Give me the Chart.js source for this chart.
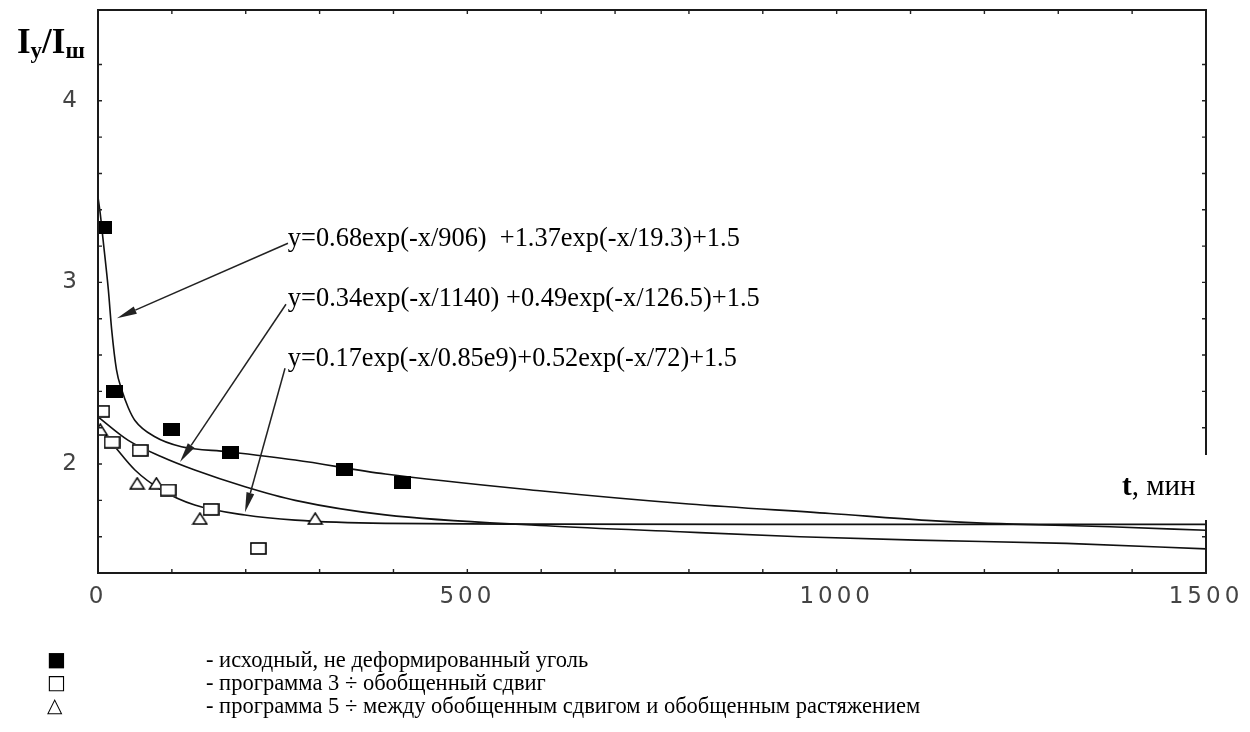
<!DOCTYPE html>
<html>
<head>
<meta charset="utf-8">
<script src="https://cdn.jsdelivr.net/npm/chart.js@4"></script>
<style>
html, body { margin: 0; padding: 0; background: #fff; }
#wrap { position: relative; width: 1250px; height: 732px; }
#c { position: absolute; left: 0; top: 0; }
.leg { position: absolute; font-family: "Liberation Serif", "Times New Roman", serif; font-size: 22.5px; line-height: 23px; color: #000; white-space: nowrap; }
.mk { font-family: "DejaVu Sans", sans-serif; font-size: 20px; }
</style>
</head>
<body>
<div id="wrap">
  <canvas id="c" width="1250" height="732"></canvas>
  <div class="leg mk" style="left:47px;top:648px">■<br>□<br>△</div>
  <div class="leg" style="left:206px;top:648px">- исходный, не деформированный уголь<br>- программа 3 ÷ обобщенный сдвиг<br>- программа 5 ÷ между обобщенным сдвигом и обобщенным растяжением</div>
</div>
<script>
// measured points
const filledT = [8, 23, 100, 179, 334, 412];
const filledV = [3.30, 2.40, 2.19, 2.065, 1.972, 1.897];
const openT = [5, 19, 57, 95, 153, 217];
const openV = [2.29, 2.12, 2.075, 1.857, 1.75, 1.535];
const triT = [3, 53, 79, 138, 294];
const triV = [2.19, 1.894, 1.894, 1.70, 1.70];

// fitted curves
const fit1T = [0, 3, 7, 14, 18.5, 25, 32, 41, 50, 77, 113, 176, 267, 389, 598, 800, 991, 1122, 1239, 1370, 1500];
const fit1V = [3.47, 3.38, 3.23, 2.96, 2.74, 2.52, 2.41, 2.31, 2.24, 2.15, 2.095, 2.068, 2.022, 1.945, 1.853, 1.78, 1.728, 1.69, 1.669, 1.655, 1.635];
const fit2T = [0, 3, 41, 86, 131, 199, 267, 389, 607, 788, 950, 1108, 1311, 1500];
const fit2V = [2.26, 2.25, 2.13, 2.04, 1.967, 1.875, 1.80, 1.72, 1.66, 1.627, 1.60, 1.581, 1.563, 1.533];
const fit3T = [0, 3, 23, 50, 86, 131, 199, 267, 389, 600, 900, 1200, 1500];
const fit3V = [2.21, 2.198, 2.095, 1.967, 1.857, 1.774, 1.719, 1.691, 1.673, 1.669, 1.668, 1.668, 1.668];

const xLabels = [0, 500, 1000, 1500];
const yLabels = [2, 3, 4];

const eqTexts = [
  'y=0.68exp(-x/906)  +1.37exp(-x/19.3)+1.5',
  'y=0.34exp(-x/1140) +0.49exp(-x/126.5)+1.5',
  'y=0.17exp(-x/0.85e9)+0.52exp(-x/72)+1.5'
];
const eqT = [257, 257, 257];
const eqV = [3.199, 2.869, 2.538];
const eqW = [452, 472, 449];
// arrows: tail (t, v) -> head (t, v)
const arrowFromT = [257.2, 254.5, 253.2];
const arrowFromV = [3.216, 2.880, 2.527];
const arrowToT = [25.7, 111.0, 199.0];
const arrowToV = [2.803, 2.011, 1.734];

function pts(xs, ys) { return xs.map((x, i) => ({ x: x, y: ys[i] })); }

function marker(kind) {
  const c = document.createElement('canvas');
  c.width = 17; c.height = 13;
  const g = c.getContext('2d');
  if (kind === 'filled') {
    g.fillStyle = '#000';
    g.fillRect(0, 0, 17, 13);
  } else if (kind === 'open') {
    g.fillStyle = '#fff';
    g.fillRect(0, 0, 17, 13);
    g.strokeStyle = '#000';
    g.lineWidth = 1.6;
    g.strokeRect(1, 1, 15, 11);
  } else {
    g.beginPath();
    g.moveTo(8.5, 1);
    g.lineTo(15.5, 12);
    g.lineTo(1.5, 12);
    g.closePath();
    g.fillStyle = '#fff';
    g.fill();
    g.strokeStyle = '#000';
    g.lineWidth = 1.4;
    g.stroke();
  }
  return c;
}

const lineStyle = { showLine: true, borderColor: '#111', borderWidth: 1.6, pointRadius: 0, cubicInterpolationMode: 'monotone', order: 2 };

// wide tick digits like the original
const spacingPlugin = {
  id: 'spacing',
  beforeDraw(chart) { chart.ctx.letterSpacing = '4px'; }
};

const framePlugin = {
  id: 'frame',
  afterDraw(chart) {
    const ctx = chart.ctx;
    const a = chart.chartArea;
    const xs = chart.scales.x, ys = chart.scales.y;
    ctx.letterSpacing = '0px';
    ctx.save();
    ctx.strokeStyle = '#222';
    ctx.lineWidth = 1.4;
    ctx.beginPath();
    xs.ticks.forEach(t => {
      const p = xs.getPixelForValue(t.value);
      ctx.moveTo(p, a.bottom); ctx.lineTo(p, a.bottom - 4);
      ctx.moveTo(p, a.top); ctx.lineTo(p, a.top + 4);
    });
    ys.ticks.forEach(t => {
      const p = ys.getPixelForValue(t.value);
      ctx.moveTo(a.left, p); ctx.lineTo(a.left + 4, p);
      ctx.moveTo(a.right, p); ctx.lineTo(a.right - 4, p);
    });
    ctx.stroke();
    ctx.lineWidth = 2;
    ctx.strokeStyle = '#1a1a1a';
    ctx.strokeRect(a.left, a.top, a.right - a.left, a.bottom - a.top);

    // x title with a white patch over the right border
    ctx.fillStyle = '#fff';
    ctx.fillRect(1115, 455, 100, 65);
    ctx.fillStyle = '#000';
    ctx.textBaseline = 'alphabetic';
    ctx.font = 'bold 29px "Liberation Serif"';
    ctx.fillText('t', 1122, 495);
    const tw = ctx.measureText('t').width;
    ctx.font = '29px "Liberation Serif"';
    ctx.fillText(', мин', 1122 + tw, 495);

    // y title
    let x = 17;
    const parts = [['I', 35, 53], ['у', 23, 58], ['/', 35, 53], ['I', 35, 53], ['ш', 23, 58]];
    parts.forEach(p => {
      ctx.font = 'bold ' + p[1] + 'px "Liberation Serif"';
      ctx.fillText(p[0], x, p[2]);
      x += ctx.measureText(p[0]).width;
    });

    // equations
    ctx.font = '28px "Liberation Serif"';
    eqTexts.forEach((s, i) => {
      ctx.fillText(s, xs.getPixelForValue(eqT[i]), ys.getPixelForValue(eqV[i]), eqW[i]);
    });

    // arrows
    ctx.strokeStyle = '#222';
    ctx.fillStyle = '#222';
    ctx.lineWidth = 1.5;
    arrowFromT.forEach((t, i) => {
      const x1 = xs.getPixelForValue(t), y1 = ys.getPixelForValue(arrowFromV[i]);
      const x2 = xs.getPixelForValue(arrowToT[i]), y2 = ys.getPixelForValue(arrowToV[i]);
      const ang = Math.atan2(y2 - y1, x2 - x1);
      const L = 20, W = 4;
      const bx = x2 - L * Math.cos(ang), by = y2 - L * Math.sin(ang);
      ctx.beginPath();
      ctx.moveTo(x1, y1); ctx.lineTo(bx, by);
      ctx.stroke();
      ctx.beginPath();
      ctx.moveTo(x2, y2);
      ctx.lineTo(bx + W * Math.sin(ang), by - W * Math.cos(ang));
      ctx.lineTo(bx - W * Math.sin(ang), by + W * Math.cos(ang));
      ctx.closePath();
      ctx.fill();
    });
    ctx.restore();
  }
};

const tickFont = { family: '"DejaVu Sans", sans-serif', size: 23, weight: 'normal' };

new Chart(document.getElementById('c'), {
  type: 'scatter',
  data: {
    datasets: [
      { data: pts(filledT, filledV), pointStyle: marker('filled'), order: 0 },
      { data: pts(openT, openV), pointStyle: marker('open'), order: 0 },
      { data: pts(triT, triV), pointStyle: marker('tri'), order: 0 },
      Object.assign({ data: pts(fit1T, fit1V) }, lineStyle),
      Object.assign({ data: pts(fit2T, fit2V) }, lineStyle),
      Object.assign({ data: pts(fit3T, fit3V) }, lineStyle)
    ]
  },
  options: {
    responsive: false,
    animation: false,
    layout: { padding: { top: 10, right: 44, left: 0, bottom: 0 } },
    plugins: { legend: { display: false }, tooltip: { enabled: false } },
    scales: {
      x: {
        type: 'linear', min: 0, max: 1500,
        grid: { display: false, drawTicks: false },
        border: { display: false },
        ticks: {
          stepSize: 100, autoSkip: false, maxRotation: 0, padding: 10,
          color: '#444', font: tickFont,
          callback: v => xLabels.includes(Math.round(v)) && Math.abs(v - Math.round(v)) < 1e-6 ? String(Math.round(v)) : ''
        },
        afterFit: s => { s.height = 159; s.paddingLeft = 0; s.paddingRight = 0; }
      },
      y: {
        type: 'linear', min: 1.4, max: 4.5,
        grid: { display: false, drawTicks: false },
        border: { display: false },
        ticks: {
          stepSize: 0.2, autoSkip: false, padding: 17,
          color: '#444', font: tickFont,
          callback: v => {
            const r = Math.round(v);
            return Math.abs(v - r) < 1e-6 && yLabels.includes(r) ? String(r) : '';
          }
        },
        afterFit: s => { s.width = 98; s.paddingTop = 0; s.paddingBottom = 0; }
      }
    }
  },
  plugins: [spacingPlugin, framePlugin]
});
</script>
</body>
</html>
